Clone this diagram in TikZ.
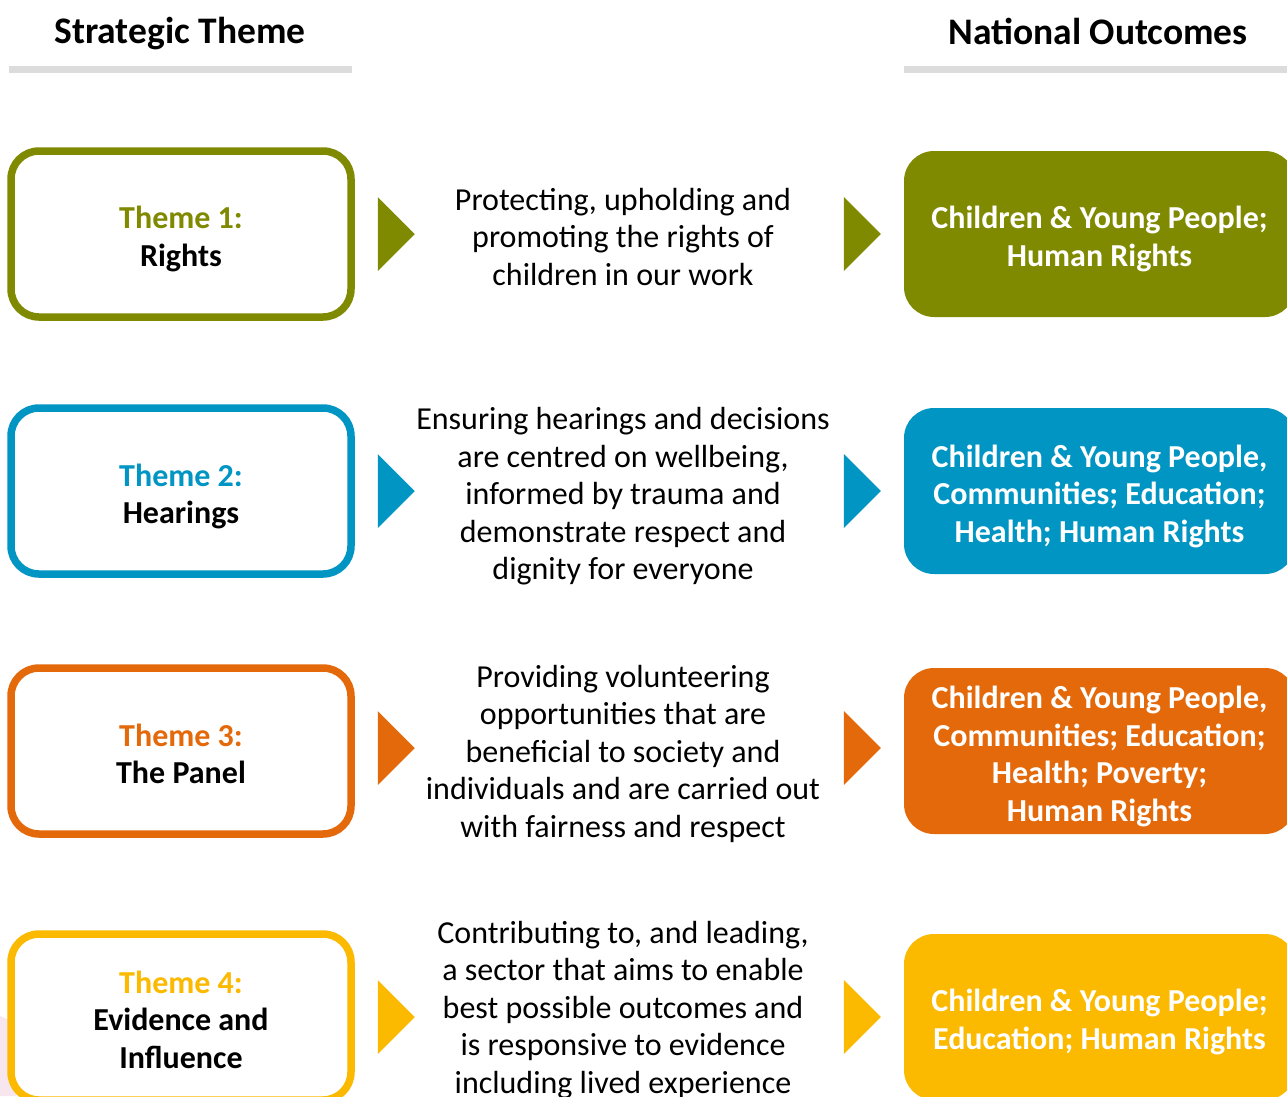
\documentclass[tikz,border=0pt]{standalone}
\usepackage{fontspec}
\setmainfont{Carlito}
\definecolor{cOlive}{HTML}{808A00}
\definecolor{cBlue}{HTML}{0095C2}
\definecolor{cOrange}{HTML}{E4690A}
\definecolor{cYellow}{HTML}{FBB900}
\definecolor{cBar}{HTML}{DCDCDC}
\definecolor{cPink}{HTML}{F8E6EE}
\newcommand{\bodysize}{\fontsize{32}{37.5}\selectfont}
\newcommand{\headsize}{\fontsize{37.5}{44}\selectfont}
\tikzset{
  themebox/.style={draw=#1, line width=7.5pt, fill=white, rounded corners=28pt,
    minimum width=340pt, minimum height=166pt, inner sep=0pt},
  themelabel/.style={align=center, inner sep=0pt, font=\bodysize\bfseries},
  outcomebox/.style={fill=#1, rounded corners=30pt,
    minimum width=391pt, minimum height=166pt, inner sep=0pt},
  outcomelabel/.style={align=center, inner sep=0pt, text=white, font=\bodysize\bfseries},
  desctext/.style={align=center, inner sep=0pt, font=\bodysize},
  headtext/.style={inner sep=0pt, font=\headsize\bfseries},
  headbar/.style={draw=cBar, line width=7pt},
  arrowtri/.pic={\fill[pic actions] (0,-37) -- (37,0) -- (0,37) -- cycle;}
}
\begin{document}
\begin{tikzpicture}[x=1pt,y=-1pt]
\useasboundingbox (0,0) rectangle (1287,1096);
\clip (0,0) rectangle (1287,1096);
\fill[white] (0,0) rectangle (1287,1096);
% faint background shape
\fill[cPink] (0,1016) -- (16,1023) -- (16,1096) -- (0,1096) -- cycle;

% headings
\node[headtext] (hS) at (180,34) {Strategic Theme};
\node[headtext] (hN) at (1098,31) {National Outcomes};
\coordinate (bS1) at (9,69.5);
\coordinate (bS2) at (352,69.5);
\coordinate (bN1) at (904,69.5);
\coordinate (bN2) at (1290,69.5);
\draw[headbar] (bS1) -- (bS2);
\draw[headbar] (bN1) -- (bN2);

% row 1
\node[themebox=cOlive] (L1) at (181,234) {};
\node[themelabel] (L1t) at (181,239) {\textcolor{cOlive}{Theme 1:}\\Rights};
\node[desctext] (D1) at (623,236.5) {Protecting, upholding and\\promoting the rights of\\children in our work};
\node[outcomebox=cOlive] (O1) at (1099.5,234) {};
\node[outcomelabel] (O1t) at (1099.5,239) {Children \& Young People;\\Human Rights};
\pic[fill=cOlive] at ([xshift=23pt]L1.east) {arrowtri};
\pic[fill=cOlive] at ([xshift=-60pt]O1.west) {arrowtri};

% row 2
\node[themebox=cBlue] (L2) at (181,491) {};
\node[themelabel] (L2t) at (181,496.5) {\textcolor{cBlue}{Theme 2:}\\Hearings};
\node[desctext] (D2) at (623,496.5) {Ensuring hearings and decisions\\are centred on wellbeing,\\informed by trauma and\\demonstrate respect and\\dignity for everyone};
\node[outcomebox=cBlue] (O2) at (1099.5,491) {};
\node[outcomelabel] (O2t) at (1099.5,496) {Children \& Young People,\\Communities; Education;\\Health; Human Rights};
\pic[fill=cBlue] at ([xshift=23pt]L2.east) {arrowtri};
\pic[fill=cBlue] at ([xshift=-60pt]O2.west) {arrowtri};

% row 3
\node[themebox=cOrange] (L3) at (181,751) {};
\node[themelabel] (L3t) at (181,754) {\textcolor{cOrange}{Theme 3:}\\The Panel};
\node[desctext] (D3) at (623,753.5) {Providing volunteering\\opportunities that are\\beneficial to society and\\individuals and are carried out\\with fairness and respect};
\node[outcomebox=cOrange] (O3) at (1099.5,751) {};
\node[outcomelabel] (O3t) at (1099.5,756.5) {Children \& Young People,\\Communities; Education;\\Health; Poverty;\\Human Rights};
\pic[fill=cOrange] at ([xshift=23pt,yshift=3pt]L3.east) {arrowtri};
\pic[fill=cOrange] at ([xshift=-60pt,yshift=3pt]O3.west) {arrowtri};

% row 4
\node[themebox=cYellow] (L4) at (181,1017) {};
\node[themelabel] (L4t) at (181,1019.5) {\textcolor{cYellow}{Theme 4:}\\Evidence and\\Influence};
\node[desctext] (D4) at (623,1010) {Contributing to, and leading,\\a sector that aims to enable\\best possible outcomes and\\is responsive to evidence\\including lived experience};
\node[outcomebox=cYellow] (O4) at (1099.5,1017) {};
\node[outcomelabel] (O4t) at (1099.5,1022) {Children \& Young People;\\Education; Human Rights};
\pic[fill=cYellow] at ([xshift=23pt]L4.east) {arrowtri};
\pic[fill=cYellow] at ([xshift=-60pt]O4.west) {arrowtri};
\end{tikzpicture}
\end{document}
